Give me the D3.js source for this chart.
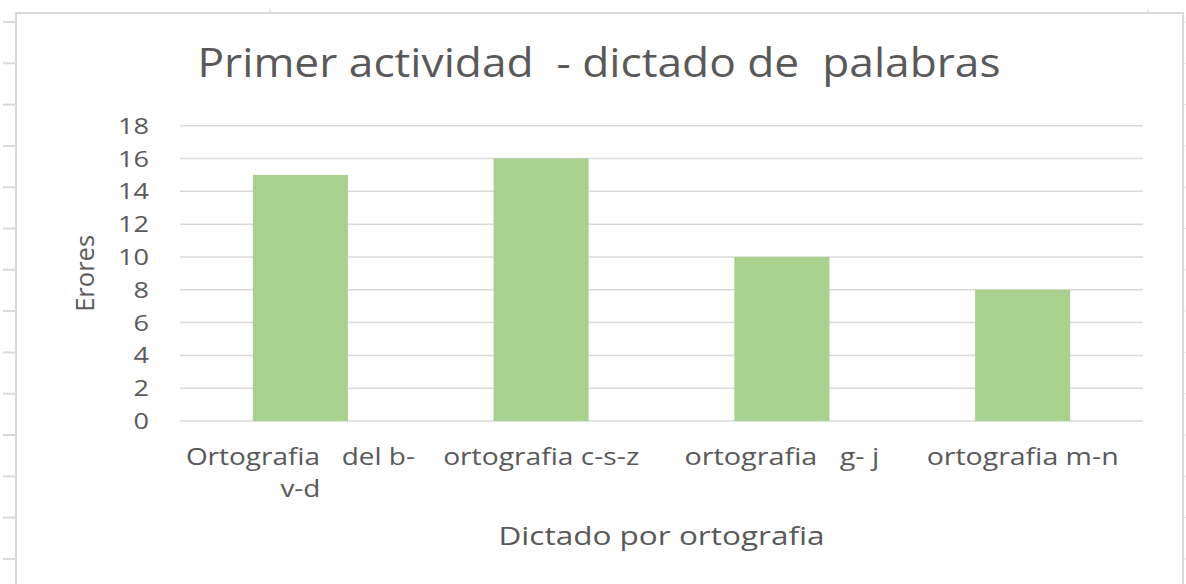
<!DOCTYPE html>
<html>
<head>
<meta charset="utf-8">
<script src="https://cdn.jsdelivr.net/npm/d3@7"></script>
<style>
  body { margin: 0; background: #fff; }
  svg { display: block; }
  text { font-family: "Open Sans", sans-serif; fill: #595959; white-space: pre; }
</style>
</head>
<body>
<div id="chart"></div>
<script>
// data
var categories = ["Ortografia   del b-\nv-d", "ortografia c-s-z", "ortografia   g- j", "ortografia m-n"];
var errores = [15, 16, 10, 8];
var yTicks = [0, 2, 4, 6, 8, 10, 12, 14, 16, 18];

var W = 1186, H = 584;
var svg = d3.select("#chart").append("svg").attr("width", W).attr("height", H);

// the screenshot text is stretched wider than the font: fit each label to the width it has there
function fit(sel, w) {
  return sel.attr("textLength", w).attr("lengthAdjust", "spacingAndGlyphs");
}

// spreadsheet cell ticks behind the chart
var rowTicks = d3.range(22, H, 41.3);
svg.selectAll(".rowtick").data(rowTicks).enter().append("line")
  .attr("x1", 3).attr("x2", 16).attr("y1", function (d) { return d; }).attr("y2", function (d) { return d; })
  .style("stroke", "#d9d9d9").style("stroke-width", 2);
svg.selectAll(".rowtickR").data(rowTicks).enter().append("line")
  .attr("x1", 1183).attr("x2", 1186).attr("y1", function (d) { return d; }).attr("y2", function (d) { return d; })
  .style("stroke", "#e4e4e4").style("stroke-width", 1);
[270, 1148].forEach(function (x) {
  svg.append("line").attr("x1", x).attr("x2", x).attr("y1", 9).attr("y2", 13)
    .style("stroke", "#d9d9d9").style("stroke-width", 1);
});

// chart area border
svg.append("rect")
  .attr("x", 16).attr("y", 13).attr("width", 1167).attr("height", H)
  .style("fill", "#fff").style("stroke", "#d9d9d9").style("stroke-width", 2);

var margin = { left: 180, right: 1143, top: 125.7, bottom: 421 };

var x = d3.scaleBand().domain(categories).range([margin.left, margin.right]).paddingInner(0.605).paddingOuter(0.3025);
var y = d3.scaleLinear().domain([0, 18]).range([margin.bottom, margin.top]);

// gridlines
svg.selectAll(".grid").data(yTicks).enter().append("line")
  .attr("x1", margin.left).attr("x2", margin.right)
  .attr("y1", function (d) { return y(d); }).attr("y2", function (d) { return y(d); })
  .style("stroke", "#d9d9d9").style("stroke-width", 1.5);

// bars
svg.selectAll(".bar").data(errores).enter().append("rect")
  .attr("x", function (d, i) { return x(categories[i]); })
  .attr("width", x.bandwidth())
  .attr("y", function (d) { return y(d); })
  .attr("height", function (d) { return y(0) - y(d); })
  .style("fill", "#a9d18e");

// y tick labels
svg.selectAll(".ylab").data(yTicks).enter().append("text")
  .attr("x", 149).attr("y", function (d) { return y(d) + 8; })
  .attr("text-anchor", "end").style("font-size", "22px")
  .text(function (d) { return d; })
  .attr("textLength", function (d) { return String(d).length * 15.5; })
  .attr("lengthAdjust", "spacingAndGlyphs");

// x labels
var labelWidths = [[229, 40], [196], [195], [192]];
categories.forEach(function (c, i) {
  var cx = x(c) + x.bandwidth() / 2;
  c.split("\n").forEach(function (l, j) {
    var t = svg.append("text").attr("x", cx).attr("y", 465 + j * 32)
      .attr("text-anchor", "middle").style("font-size", "23px").text(l);
    fit(t, labelWidths[i][j]);
  });
});

// axis titles
fit(svg.append("text")
  .attr("transform", "translate(94," + ((margin.top + margin.bottom) / 2) + ") rotate(-90)")
  .attr("text-anchor", "middle").style("font-size", "25px").text("Erores"), 77);
fit(svg.append("text")
  .attr("x", (margin.left + margin.right) / 2).attr("y", 545)
  .attr("text-anchor", "middle").style("font-size", "25px").text("Dictado por ortografia"), 326);

// title
fit(svg.append("text")
  .attr("x", 599).attr("y", 77)
  .attr("text-anchor", "middle").style("font-size", "40px").text("Primer actividad  - dictado de  palabras"), 803);
</script>
</body>
</html>
